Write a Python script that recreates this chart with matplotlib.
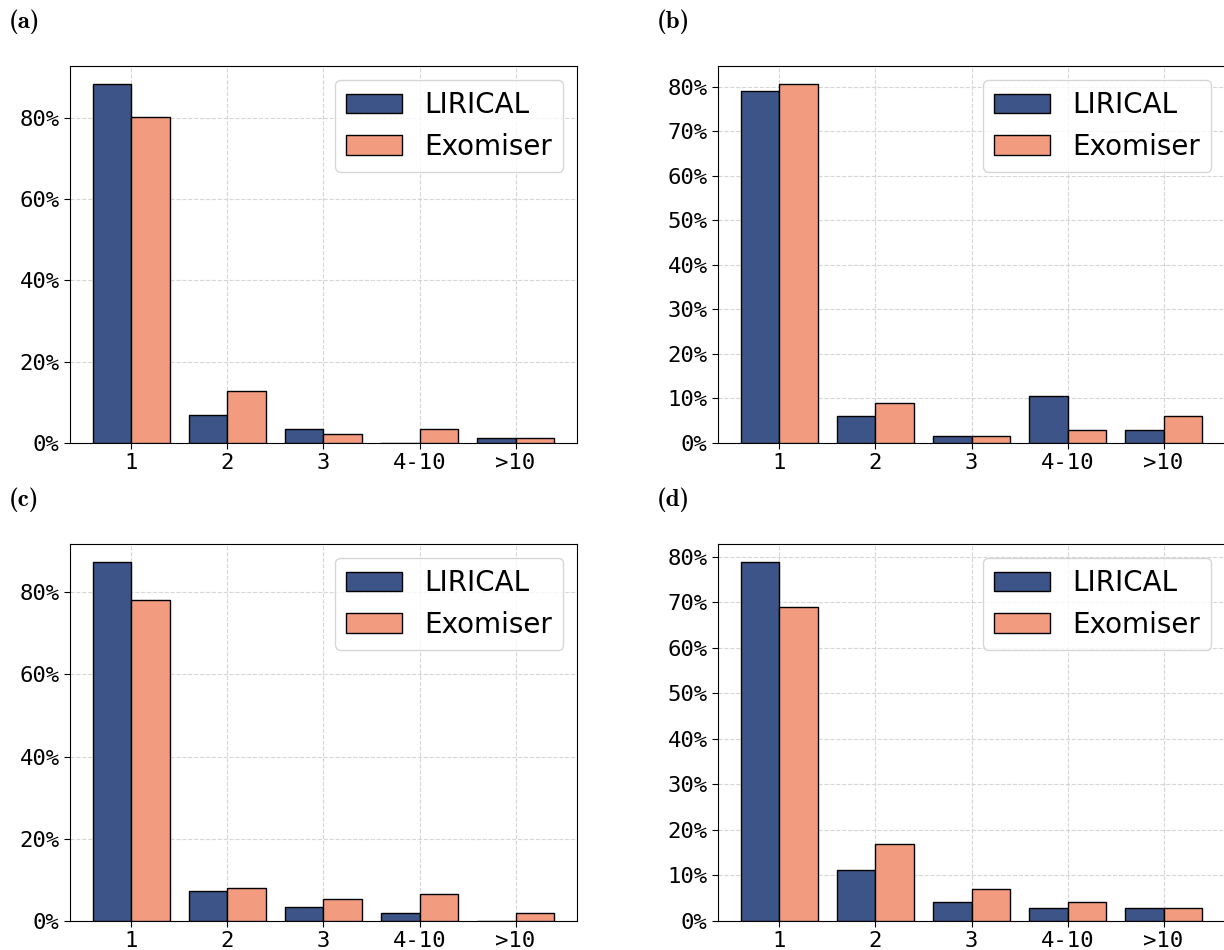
import matplotlib
matplotlib.use("Agg")
import os
import matplotlib.pyplot as plt
import numpy as np
from matplotlib.ticker import PercentFormatter, MultipleLocator
from matplotlib.font_manager import FontProperties

categories = ["1", "2", "3", "4-10", ">10"]
series_names = ["LIRICAL", "Exomiser"]

a_lirical = [88.37, 6.98, 3.49, 0.0, 1.16]
a_exomiser = [80.23, 12.79, 2.33, 3.49, 1.16]
b_lirical = [79.10, 5.97, 1.49, 10.45, 2.99]
b_exomiser = [80.60, 8.96, 1.49, 2.99, 5.97]
c_lirical = [87.33, 7.33, 3.33, 2.00, 0.0]
c_exomiser = [78.00, 8.00, 5.33, 6.67, 2.00]
d_lirical = [78.87, 11.27, 4.23, 2.82, 2.82]
d_exomiser = [69.01, 16.90, 7.04, 4.23, 2.82]

panels = [
    ("(a)", a_lirical, a_exomiser, 20),
    ("(b)", b_lirical, b_exomiser, 10),
    ("(c)", c_lirical, c_exomiser, 20),
    ("(d)", d_lirical, d_exomiser, 10),
]

W, H = 1224, 950
fig = plt.figure(figsize=(W / 100, H / 100), dpi=100)

ax_w = 507 / W
ax_h = 377 / H
positions = [
    (70 / W, 1 - 443 / H),
    (718 / W, 1 - 443 / H),
    (70 / W, 1 - 921 / H),
    (718 / W, 1 - 921 / H),
]
label_pos = [(9 / W, 1 - 22 / H), (657 / W, 1 - 22 / H),
             (9 / W, 1 - 500 / H), (657 / W, 1 - 500 / H)]

cmb_path = os.path.join(matplotlib.get_data_path(), "fonts", "ttf", "cmb10.ttf")
if os.path.exists(cmb_path):
    label_font = FontProperties(fname=cmb_path, size=18)
else:
    label_font = FontProperties(family="DejaVu Serif", weight="bold", size=16)

c_lir = "#3C5488"
c_exo = "#F39B7F"
mono = "DejaVu Sans Mono"

for (lab, lir, exo, step), (x0, y0), (lx, ly) in zip(panels, positions, label_pos):
    ax = fig.add_axes([x0, y0, ax_w, ax_h])
    x = np.arange(len(categories))
    w = 0.4
    ax.bar(x - w / 2, lir, w, color=c_lir, edgecolor="black", linewidth=1.0,
           label=series_names[0], zorder=3)
    ax.bar(x + w / 2, exo, w, color=c_exo, edgecolor="black", linewidth=1.0,
           label=series_names[1], zorder=3)
    ax.set_xticks(x)
    ax.set_xticklabels(categories)
    ax.yaxis.set_major_locator(MultipleLocator(step))
    ax.yaxis.set_major_formatter(PercentFormatter(xmax=100, decimals=0))
    ax.grid(True, linestyle="--", color="#cccccc", linewidth=0.8, alpha=0.8, zorder=0)
    ax.set_axisbelow(True)
    for t in ax.get_xticklabels() + ax.get_yticklabels():
        t.set_fontfamily(mono)
        t.set_fontsize(16)
    ax.tick_params(axis="both", length=4)
    ax.legend(loc="upper right", fontsize=20, framealpha=0.8)
    fig.text(lx, ly, lab, fontproperties=label_font, va="center", ha="left")

fig.savefig("out.png", dpi=100)
